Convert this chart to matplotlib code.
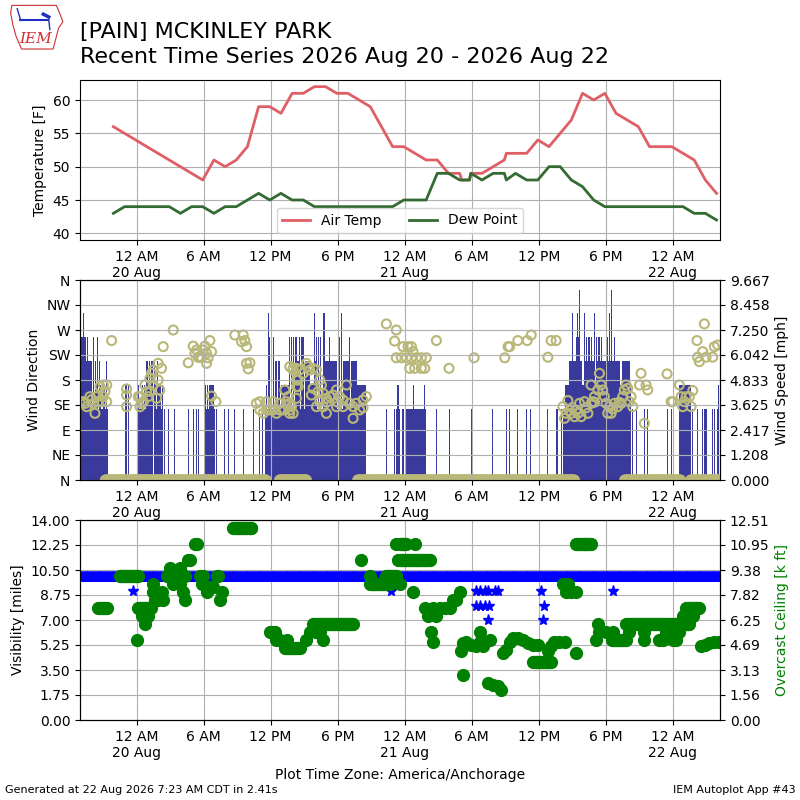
import numpy as np
import pandas as pd
import matplotlib
matplotlib.use("Agg")
import matplotlib.pyplot as plt
import matplotlib.dates as mdates
from matplotlib.patches import Polygon

# ------------------------------------------------------------
# Data (hours relative to 2026-08-20 00:00 America/Anchorage)
# ------------------------------------------------------------
BASE = pd.Timestamp("2026-08-20 00:00")
X_START, X_END = -5.07, 52.23
MPH_PER_KT = 1.15078

# hourly obs (plus a few specials)
temp_h = [-2.08, 5.92, 6.92, 7.92, 8.92, 9.92, 10.92, 11.92, 12.92, 13.92,
          14.92, 15.92, 16.92, 17.92, 18.92, 19.92, 20.92, 22.92, 23.92,
          24.92, 25.92, 26.92, 27.92, 28.92, 29.1, 29.8, 29.92, 30.92, 32.92,
          33.1, 33.92, 34.92, 35.92, 36.92, 38.92, 39.92, 40.92, 41.92,
          42.92, 44.92, 45.92, 46.92, 47.92, 48.92, 49.92, 50.92, 51.92]
air_temp = [56, 48, 51, 50, 51, 53, 59, 59, 58, 61,
            61, 62, 62, 61, 61, 60, 59, 53, 53,
            52, 51, 51, 49, 49, 48, 48, 49, 49, 51,
            52, 52, 52, 54, 53, 57, 61, 60, 61,
            58, 56, 53, 53, 53, 52, 51, 48, 46]

dwpt_h = [-2.08, -1.08, -0.08, 0.92, 1.92, 2.92, 3.92, 4.92, 5.92, 6.92,
          7.92, 8.92, 9.92, 10.92, 11.92, 12.92, 13.92, 14.92, 15.92, 16.92,
          17.92, 18.92, 19.92, 20.92, 21.92, 22.92, 23.92, 24.92, 25.92,
          26.92, 27.92, 28.92, 29.1, 29.8, 29.92, 30.92, 31.92, 32.92, 33.1,
          33.92, 34.92, 35.92, 36.92, 37.92, 38.92, 39.92, 40.92, 41.92,
          42.92, 43.92, 44.92, 45.92, 46.92, 47.92, 48.92, 49.92, 50.92, 51.92]
dew_point = [43, 44, 44, 44, 44, 44, 43, 44, 44, 43,
             44, 44, 45, 46, 45, 46, 45, 45, 44, 44,
             44, 44, 44, 44, 44, 44, 45, 45, 45,
             49, 49, 48, 48, 48, 49, 48, 49, 49, 48,
             49, 48, 48, 50, 50, 48, 47, 45, 44,
             44, 44, 44, 44, 44, 44, 44, 43, 43, 42]

# wind speed: sustained runs (start h, end h, knots) and single reports
wind_run_start = [-5.07, -5.07, 0.05, 0.85, 6.10, 11.48, 12.90, 15.55, 19.75,
                  24.15, 38.16, 38.31, 38.75, 40.10, 41.20, 43.50, 48.59]
wind_run_end = [-2.55, -4.40, 1.35, 1.50, 6.90, 20.57, 13.60, 15.90, 20.55,
                25.94, 43.67, 44.27, 39.90, 41.00, 43.30, 44.20, 49.64]
wind_run_kt = [3, 4, 3, 4, 3, 3, 4, 4, 4,
               3, 3, 4, 5, 5, 5, 5, 4]

wind_spike_h = [-5.00, -4.75, -5.05, -4.90, -4.85, -4.65, -4.60, -4.40, -3.90,
                -3.50, -4.50, -4.35, -4.25, -4.15, -4.05, -3.70, -3.30, -2.70,
                -4.20, -3.60, -3.20, -3.00, -2.85, -0.95, -0.75,
                0.90, 1.00, 1.15, 1.30, 1.45, 1.60, 1.90, 0.20, 0.50, 0.70,
                1.70, 2.00, 2.15, 2.35, 1.80, 2.25,
                2.53, 2.83, 3.37, 4.62, 5.07, 5.37, 5.51,
                6.11, 6.20, 6.35, 6.50, 6.60, 6.75, 6.86,
                7.01, 7.16, 7.90, 8.20, 8.79, 9.54, 10.43, 11.03, 11.27,
                11.78, 15.95, 16.75, 16.85, 18.04, 18.33,
                11.93, 12.05, 12.22, 13.71, 13.90, 14.05, 14.20, 14.31, 14.60,
                14.75, 14.90, 16.10, 16.30, 16.50, 16.70, 17.30, 18.10, 18.20,
                19.08,
                12.40, 12.55, 12.70, 12.82, 14.40, 14.45, 14.95, 15.10, 15.25,
                15.40, 15.50, 16.00, 16.90, 17.00, 17.10, 17.20, 17.40, 17.50,
                17.60, 17.70, 17.80, 17.90, 18.50, 18.60, 18.70, 18.80, 18.90,
                19.00, 19.20, 19.30, 19.40, 19.50, 19.60, 19.70, 11.60,
                22.36, 23.10, 23.25, 23.55, 23.85, 23.40, 24.75, 25.79,
                26.84, 28.03, 29.97, 31.90, 33.10, 33.39, 34.13, 34.88, 35.27,
                36.82, 37.56, 37.71, 38.00,
                39.35, 39.45, 39.60, 40.10, 40.30, 40.50, 40.69, 40.99, 41.20,
                41.40, 41.59, 42.18, 42.30, 42.50, 42.78,
                39.05, 39.50, 40.12, 41.02, 42.03, 42.33, 39.65, 42.48,
                44.42, 44.72, 45.46, 45.76, 47.55, 47.85,
                49.79, 50.23, 50.68, 50.83, 50.98, 51.57, 51.72, 52.00, 52.12]
wind_spike_kt = [7, 7, 6, 6, 6, 6, 6, 6, 6,
                 6, 5, 5, 5, 5, 5, 5, 5, 5,
                 4, 4, 4, 4, 4, 4, 4,
                 5, 5, 5, 5, 5, 5, 5, 4, 4, 4,
                 4, 4, 4, 4, 3, 3,
                 3, 3, 3, 3, 3, 3, 3,
                 4, 4, 4, 4, 4, 4, 4,
                 3, 3, 3, 3, 3, 3, 3, 3, 3,
                 7, 7, 7, 7, 7, 7,
                 6, 6, 6, 6, 6, 6, 6, 6, 6,
                 6, 6, 6, 6, 6, 6, 6, 6, 6,
                 6,
                 5, 5, 5, 5, 5, 5, 5, 5, 5,
                 5, 5, 5, 5, 5, 5, 5, 5, 5,
                 5, 5, 5, 5, 5, 5, 5, 5, 5,
                 5, 5, 5, 5, 5, 5, 5, 4,
                 3, 3, 3, 3, 3, 4, 4, 4,
                 3, 3, 3, 3, 3, 3, 3, 3, 3,
                 3, 3, 3, 3,
                 6, 6, 6, 6, 6, 6, 6, 6, 6,
                 6, 6, 6, 6, 6, 6,
                 7, 7, 7, 7, 7, 7, 8, 8,
                 3, 3, 3, 3, 3, 3,
                 3, 3, 3, 3, 3, 3, 3, 3, 4]

# wind direction: calm periods (reported as 0) and individual reports
calm_start = [-2.80, 12.80, 19.80, 43.70, 49.60]
calm_end = [11.60, 15.20, 39.20, 48.70, 52.20]

drct_h = [-5.07, -4.77, -4.47, -4.18, -3.88, -3.73, -3.43, -3.28, -3.13, -2.98,
          -2.83, -2.68, -2.68, -4.60, -4.00, -3.60, -3.00,
          -2.24, -0.90, -0.90, -0.90,
          0.15, 0.30, 0.45, 0.74, 0.89, 1.19, 1.34, 1.49, 1.79, 1.93, 2.08,
          1.93, 2.23, 2.38, 1.04, 0.60, 1.49, 0.30, 1.20,
          3.28,
          4.62, 5.07, 5.22, 5.51, 5.81, 6.11, 6.26, 6.56, 6.71, 6.26, 5.96,
          5.37, 5.66, 6.40, 6.71, 7.10,
          8.79, 9.54, 9.69, 9.84, 9.39, 9.84, 9.99, 10.14,
          10.73, 11.03, 11.33, 11.63, 11.93, 12.22, 12.52, 12.82, 13.12, 13.27,
          13.42, 13.56, 13.71, 14.01, 14.31, 14.01, 14.31, 14.46, 11.03, 11.63,
          12.22, 12.82, 13.71,
          13.71, 14.01, 14.31, 14.60, 14.90, 15.20, 15.35, 15.50, 15.80, 16.10,
          14.46, 14.31, 13.86, 13.71, 16.40, 16.55, 15.80, 15.65, 16.25, 16.70,
          16.99, 17.29, 17.59, 17.89, 18.18, 18.48, 18.78, 19.08, 19.38, 19.67,
          19.97, 20.27, 20.57, 16.70, 16.99, 19.38, 17.89, 18.48, 16.10, 16.40,
          20.27, 18.00, 17.00,
          22.36, 23.25, 23.10, 23.85, 24.30, 24.60, 24.75, 23.25, 23.70, 24.15,
          24.60, 25.04, 25.49, 25.94, 24.45, 24.90, 25.49, 25.79, 26.84, 27.97,
          30.21, 32.96, 33.26,
          33.39, 34.13, 34.97, 35.33, 36.82, 37.11, 37.56,
          38.16, 38.31, 38.61, 38.46, 38.90, 39.20, 39.50, 39.80, 39.65, 40.10,
          40.40, 40.69, 40.84, 40.99, 41.29, 41.44, 41.59, 41.73, 41.88, 42.03,
          42.18, 42.33, 42.48, 42.78, 43.08, 43.38, 43.52, 43.67, 43.82, 43.97,
          44.27, 44.42, 44.12, 45.02, 45.16, 45.46, 45.61, 45.76, 47.49, 47.85,
          48.00, 48.59, 48.74, 48.89, 49.04, 49.19, 49.49, 49.64, 49.79, 50.23,
          50.38, 50.68, 50.83, 50.98, 51.57, 51.72, 52.02, 50.17,
          38.75, 39.35, 40.25, 41.00, 42.60, 43.20, 40.70, 39.00]
drct = [141, 141, 132, 150, 138, 120, 141, 168, 141, 171,
        159, 171, 141, 138, 145, 150, 150,
        251, 164, 153, 132,
        150, 132, 138, 171, 159, 183, 192, 171, 147, 180, 162,
        210, 201, 240, 150, 141, 198, 150, 160,
        270,
        211, 241, 228, 221, 221, 241, 228, 251, 231, 210, 234,
        234, 221, 220, 151, 141,
        261, 261, 251, 240, 249, 210, 200, 211,
        138, 126, 120, 141, 126, 141, 120, 138, 126, 162,
        141, 150, 138, 120, 147, 201, 180, 168, 141, 126,
        126, 126, 126,
        204, 198, 201, 198, 192, 210, 204, 198, 201, 198,
        180, 168, 132, 120, 180, 171, 165, 153, 159, 156,
        147, 150, 153, 162, 150, 144, 171, 138, 132, 138,
        126, 144, 150, 132, 120, 111, 132, 132, 132, 141,
        130, 140, 140,
        281, 270, 250, 240, 240, 240, 231, 220, 220, 220,
        220, 220, 220, 220, 201, 201, 201, 201, 251, 201,
        220, 220, 240,
        240, 251, 251, 261, 221, 251, 251,
        132, 111, 143, 120, 120, 114, 120, 114, 138, 141,
        120, 171, 141, 150, 162, 192, 171, 162, 150, 138,
        120, 132, 120, 138, 132, 138, 150, 162, 171, 165,
        150, 132, 141, 171, 192, 102, 171, 162, 191, 141,
        141, 171, 150, 132, 141, 150, 150, 132, 161, 221,
        213, 231, 281, 221, 221, 240, 243, 251,
        125, 125, 130, 140, 128, 140, 138, 130]

# visibility [miles]: 10 mile reports throughout plus lower reports
vsby_run_start = [X_START]
vsby_run_end = [X_END]
vsby_run_value = [10.0]
vsby_h = [-0.30, 22.80, 30.35, 30.70, 31.15, 31.45, 32.05, 32.34, 36.23, 42.63,
          30.35, 30.70, 31.15, 31.54, 36.43, 31.45, 36.37]
vsby = [9, 9, 9, 9, 9, 9, 9, 9, 9, 9,
        8, 8, 8, 8, 8, 7, 7]

# overcast ceiling [k ft]: steady runs plus individual reports
ceil_run_start = [-3.46, -1.49, 0.15, 8.64, 13.27, 15.80, 20.87, 22.36, 23.55,
                  23.55, 35.48, 39.35, 42.60, 43.82, 49.19, 48.90]
ceil_run_end = [-2.68, 0.15, 1.30, 10.28, 14.61, 19.38, 22.66, 23.26, 26.23,
                24.15, 37.12, 40.69, 43.80, 49.49, 50.38, 49.80]
ceil_run_value = [7.0, 9.0, 7.0, 12.0, 4.5, 6.0, 8.5, 9.0, 10.0,
                  11.0, 3.6, 11.0, 5.0, 6.0, 7.0, 6.5]
ceil_h = [0.00, 0.45, 0.74, 1.04, 1.49, 1.49, 1.64, 1.93, 2.23, 2.38,
          2.68, 2.98, 3.28, 3.43, 3.58, 3.88, 4.03, 4.32, 3.28, 3.88,
          4.18, 4.32, 4.62, 4.77, 5.22, 5.37, 5.66, 5.81, 5.96, 6.26,
          6.56, 6.86, 7.16, 7.31, 7.60, 7.45,
          11.93, 12.07, 12.37, 12.52, 12.82, 13.42, 15.20, 15.50, 16.10, 16.40,
          16.69, 20.13, 20.87, 23.26, 23.41, 23.55, 24.74, 24.90,
          25.79, 26.08, 26.53, 26.83, 27.13, 27.57, 28.02, 28.32, 28.62, 28.92,
          26.38, 26.53, 29.07, 29.22, 29.51, 29.96, 30.41, 30.71, 31.00, 31.60,
          29.22, 30.71, 31.45, 31.90, 32.35, 32.64, 32.79, 33.09, 33.39, 33.69,
          34.13, 34.58, 35.03, 35.48, 35.92, 36.82, 37.12, 37.41, 37.86, 38.31,
          38.16, 38.61, 38.46, 38.90, 39.35, 39.35, 41.14, 41.29, 41.44, 42.03,
          42.63, 42.93, 44.12, 45.46, 47.40, 48.60, 45.46, 46.80, 47.10, 48.00,
          48.30, 50.53, 50.90, 51.28, 51.70, 52.17]
ceil = [5.0, 6.5, 6.0, 6.5, 8.5, 8.0, 7.5, 7.5, 8.0, 7.5,
        9.0, 9.5, 9.2, 8.7, 9.0, 9.5, 9.0, 9.0, 8.5, 8.5,
        8.0, 7.5, 10.0, 10.0, 11.0, 11.0, 9.0, 8.5, 9.0, 8.0,
        8.3, 8.3, 9.0, 9.0, 8.0, 7.5,
        5.5, 5.5, 5.5, 5.0, 5.0, 5.0, 5.0, 5.5, 5.5, 5.5,
        5.0, 10.0, 9.0, 11.0, 10.0, 8.5, 8.0, 11.0,
        7.0, 6.5, 7.0, 6.5, 7.0, 7.0, 7.0, 7.5, 7.5, 8.0,
        5.5, 4.9, 4.3, 4.8, 4.9, 4.7, 4.6, 4.9, 4.6, 5.0,
        2.8, 5.5, 2.3, 2.2, 2.1, 1.9, 4.2, 4.4, 4.9, 5.1,
        5.1, 5.0, 4.8, 4.7, 4.7, 4.3, 4.6, 4.9, 4.9, 4.9,
        8.5, 8.5, 8.0, 8.0, 8.0, 4.2, 5.0, 6.0, 5.5, 5.5,
        5.5, 5.0, 5.5, 5.5, 5.5, 5.5, 5.0, 5.0, 5.0, 5.0,
        5.0, 4.6, 4.7, 4.8, 4.9, 4.9]

TICK_HOURS = [0, 6, 12, 18, 24, 30, 36, 42, 48]


def to_x(hours):
    """hours after BASE -> matplotlib date number"""
    return mdates.date2num(BASE) + np.asarray(hours, dtype=float) / 24.0


def expand_runs(starts, ends, values, step=5.0 / 60.0):
    """one report every 5 minutes across each steady run"""
    hh, vv = [], []
    for s, e, v in zip(starts, ends, values):
        n = int(round((e - s) / step)) + 1
        hh.extend(np.linspace(s, e, n))
        vv.extend([v] * n)
    return np.array(hh), np.array(vv)


def style_time_axis(ax):
    ticks = to_x(TICK_HOURS)
    labels = []
    for h in TICK_HOURS:
        t = BASE + pd.Timedelta(hours=h)
        lab = t.strftime("%I %p").lstrip("0")
        if t.hour == 0:
            lab += "\n" + t.strftime("%d %b").lstrip("0")
        labels.append(lab)
    ax.set_xticks(ticks)
    ax.set_xticklabels(labels)
    ax.set_xlim(to_x(X_START), to_x(X_END))


fig = plt.figure(figsize=(8, 8), dpi=100)

# ---- logo (rough stand-in) ----
lax = fig.add_axes([0.012, 0.937, 0.068, 0.058])
lax.set_xlim(0, 1)
lax.set_ylim(0, 1)
lax.axis("off")
lax.add_patch(Polygon([(0.04, 0.97), (0.86, 0.97), (0.92, 0.80), (0.98, 0.62),
                       (0.90, 0.48), (0.86, 0.30), (0.80, 0.03), (0.22, 0.03),
                       (0.12, 0.30), (0.06, 0.55), (0.02, 0.80)],
                      closed=True, fill=False, edgecolor="#d03030", lw=0.8))
lax.plot([0.2, 0.7], [0.66, 0.66], color="#2030c0", lw=1.5)
lax.plot([0.2, 0.14], [0.66, 0.9], color="#2030c0", lw=1)
lax.plot([0.62, 0.72], [0.78, 0.72], color="#2030c0", lw=2.5)
lax.plot([0.72, 0.74], [0.66, 0.45], color="#2030c0", lw=1)
lax.text(0.47, 0.25, "IEM", color="#d03030", fontsize=11, style="italic",
         family="DejaVu Serif", ha="center", va="center")

fig.text(0.1, 0.9525, "[PAIN] MCKINLEY PARK", fontsize=16, va="baseline")
fig.text(0.1, 0.921, "Recent Time Series 2026 Aug 20 - 2026 Aug 22",
         fontsize=16, va="baseline")

# ---- temperature panel ----
ax1 = fig.add_axes([0.1, 0.7, 0.8, 0.2])
ax1.plot(to_x(temp_h), air_temp, color="#df5f66", lw=2, label="Air Temp")
ax1.plot(to_x(dwpt_h), dew_point, color="#336b33", lw=2, label="Dew Point")
ax1.set_ylim(39, 63)
ax1.set_ylabel("Temperature [F]")
ax1.grid(True)
ax1.legend(loc="lower center", ncol=2)
style_time_axis(ax1)

# ---- wind panel ----
ax2 = fig.add_axes([0.1, 0.4, 0.8, 0.25])
ax2s = ax2.twinx()
bar_color = "#3a3a9c"
dur = np.array(wind_run_end) - np.array(wind_run_start)
ax2s.bar(to_x(wind_run_start), np.array(wind_run_kt) * MPH_PER_KT,
         width=dur / 24.0, align="edge", color=bar_color, lw=0)
ax2s.bar(to_x(wind_spike_h), np.array(wind_spike_kt) * MPH_PER_KT,
         width=0.1 / 24.0, align="center", color=bar_color, lw=0)
smax = 8 * MPH_PER_KT * 1.05
ax2s.set_ylim(0, smax)
ax2s.set_yticks(np.linspace(0, smax, 9))
ax2s.set_yticklabels(["%.3f" % v for v in np.linspace(0, smax, 9)])
ax2s.set_ylabel("Wind Speed [mph]")

calm_h, calm_d = expand_runs(calm_start, calm_end, [0] * len(calm_start))
circ = dict(s=42, facecolors="none", edgecolors="#b9b878", linewidths=1.5)
ax2.scatter(to_x(calm_h), calm_d, **circ)
ax2.scatter(to_x(drct_h), drct, **circ)
ax2.set_ylim(0, 360)
ax2.set_yticks(np.arange(0, 361, 45))
ax2.set_yticklabels(["N", "NE", "E", "SE", "S", "SW", "W", "NW", "N"])
ax2.set_ylabel("Wind Direction")
ax2.grid(True)
ax2.set_zorder(ax2s.get_zorder() + 1)
ax2.patch.set_visible(False)
style_time_axis(ax2)

# ---- visibility / ceiling panel ----
ax3 = fig.add_axes([0.1, 0.1, 0.8, 0.25])
ax3s = ax3.twinx()
vb_h, vb_v = expand_runs(vsby_run_start, vsby_run_end, vsby_run_value)
ax3.plot(to_x(vb_h), vb_v, "*", color="b", ms=8, ls="none")
ax3.plot(to_x(vsby_h), vsby, "*", color="b", ms=8, ls="none")
ax3.set_ylim(0, 14)
ax3.set_yticks(np.linspace(0, 14, 9))
ax3.set_yticklabels(["%.2f" % v for v in np.linspace(0, 14, 9)])
ax3.set_ylabel("Visibility [miles]")
ax3.grid(True)

cr_h, cr_v = expand_runs(ceil_run_start, ceil_run_end, ceil_run_value)
ax3s.plot(to_x(cr_h), cr_v, "o", color="g", ms=8.5, ls="none")
ax3s.plot(to_x(ceil_h), ceil, "o", color="g", ms=8.5, ls="none")
cmax = 12.51
ax3s.set_ylim(0, cmax)
ax3s.set_yticks(np.linspace(0, cmax, 9))
ax3s.set_yticklabels(["%.2f" % v for v in np.linspace(0, cmax, 9)])
ax3s.set_ylabel("Overcast Ceiling [k ft]", color="g")
style_time_axis(ax3)

fig.text(0.5, 0.026, "Plot Time Zone: America/Anchorage", ha="center",
         fontsize=10)
fig.text(0.006, 0.009, "Generated at 22 Aug 2026 7:23 AM CDT in 2.41s",
         fontsize=8)
fig.text(0.994, 0.009, "IEM Autoplot App #43", fontsize=8, ha="right")

fig.savefig("out.png", dpi=100)
